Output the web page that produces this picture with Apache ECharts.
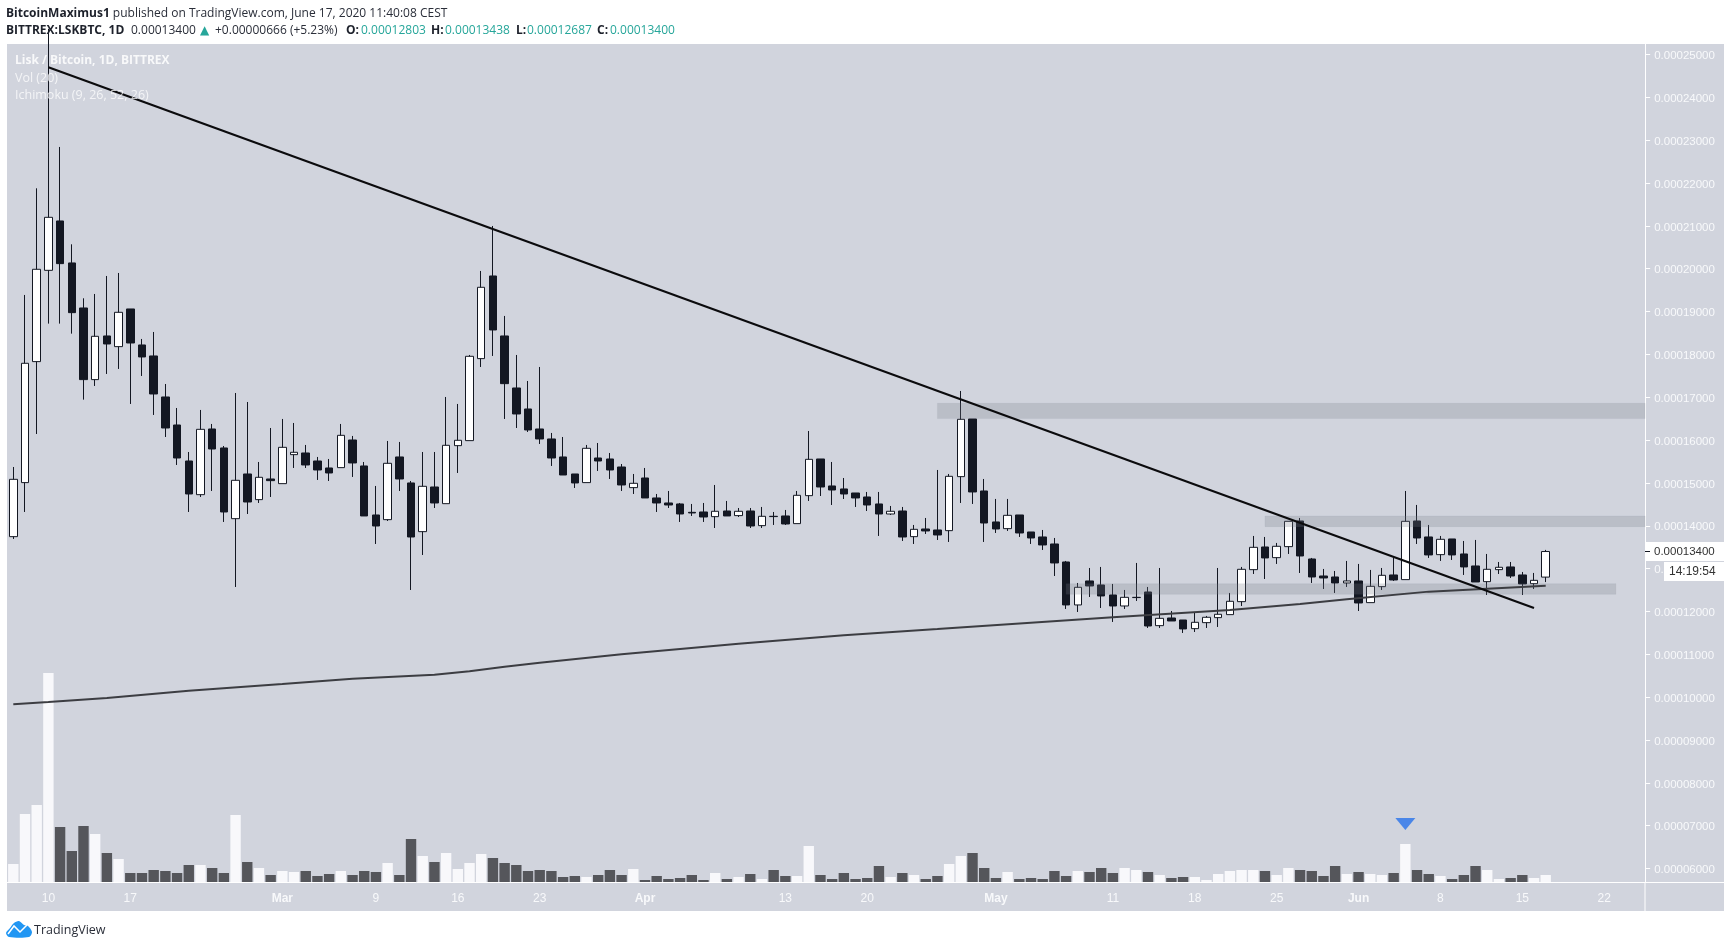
<!DOCTYPE html>
<html lang="en">
<head>
  <meta charset="UTF-8">
  <title>LSKBTC 1D</title>
  <script src="https://cdn.jsdelivr.net/npm/echarts@6/dist/echarts.min.js"></script>
  <style>
    html, body { margin: 0; padding: 0; background: #fff; overflow: hidden; }
    #chart { width: 1731px; height: 948px; }
  </style>
</head>
<body>
  <div id="chart"></div>
  <script>
    // prices are in satoshi (1e-8 BTC), one entry per day from Feb 7 2020
    var opens = [13747,15008,17832,19963,21115,20135,19084,17412,18431,18182,19061,18221,17964,17007,16353,15513,14727,16260,15817,14167,15210,14611,15093,14984,15661,15700,15513,15350,15358,16003,15397,14253,14144,15607,15000,13864,14906,14517,15871,15988,17902,19831,18431,17217,16727,16260,16027,15607,15210,15008,15583,15560,15373,14891,15116,14650,14533,14510,14315,14323,14214,14346,14238,14346,14004,14222,14230,14051,14704,15560,14930,14860,14766,14673,14510,14276,14346,13747,13926,13903,13887,15148,16494,14813,14090,13934,14253,13856,13740,13576,13156,12153,12713,12619,12386,12129,12325,12456,11670,11849,11802,11600,11740,11857,11927,12230,12977,13506,13257,13514,14113,13226,12829,12806,12666,12713,12207,12580,12853,12744,14113,13740,13327,13693,13343,13063,12697,12977,13040,12853,12650,12803];
    var closes = [15085,17793,19987,21200,20119,18975,17412,18423,18244,18983,18267,17941,17077,16283,15583,14743,16252,15793,14323,15062,14556,15132,15054,15832,15716,15420,15303,15233,16112,15467,14230,13996,15459,15093,13739,14922,14533,15879,15996,17956,19567,18571,17318,16610,16237,16027,15583,15186,15000,15809,15513,15303,14953,14992,14650,14533,14486,14276,14300,14206,14339,14230,14339,13996,14222,14215,14043,14712,15552,14906,14836,14743,14650,14486,14276,14339,13739,13918,13880,13786,15155,16486,14790,14066,13926,14245,13833,13716,13553,13133,12153,12565,12596,12363,12129,12331,12331,11662,11841,11779,11593,11748,11865,11935,12238,12985,13498,13250,13522,14105,13296,12806,12783,12666,12713,12199,12588,12845,12736,14105,13716,13320,13685,13320,13040,12689,12985,13032,12829,12643,12728,13400];
    var lows = [13693,14323,16143,18719,18719,18485,16945,17264,17544,17661,16844,17497,16587,16073,15420,14323,14673,14813,14090,12572,14276,14533,14673,14984,15350,15350,15070,15046,15358,15140,14230,13576,14113,14813,12502,13319,14416,14517,15233,15988,17707,17964,16494,16283,16190,15910,15397,15186,14883,15008,15280,15093,14813,14743,14650,14323,14416,14090,14230,14090,13949,14230,14206,13949,13949,14020,14020,14051,14580,14696,14486,14626,14440,14346,13763,14253,13646,13576,13809,13669,13623,14533,14510,13623,13833,13880,13740,13576,13436,12829,12059,11989,12339,12082,11756,12059,12246,11616,11616,11779,11499,11522,11616,11639,11927,12129,12876,12759,13110,13343,12899,12666,12526,12433,12573,12012,12207,12503,12713,12744,13576,13250,13180,13203,12853,12689,12386,12876,12783,12386,12526,12687];
    var highs = [15373,19388,21877,25600,22842,20570,19310,19411,19831,19901,19061,18361,18524,17310,16750,15723,16704,16377,15863,17100,16890,15490,16283,16494,16400,15887,15607,15560,16377,16097,15490,14930,15980,15957,15046,15723,15723,17007,16844,17987,19948,20998,18898,17987,17380,17707,16167,16073,15210,15887,15933,15700,15443,15210,15350,14743,14813,14533,14510,14533,14953,14580,14416,14416,14440,14323,14370,14813,16213,15560,15490,15116,14766,14790,14790,14463,14440,14020,14183,15303,15210,17147,16494,15093,14627,14627,14253,13856,13903,13716,13180,12666,13016,13040,12643,12503,13133,12573,13016,12012,11802,11966,11896,13016,12433,13040,13763,13740,13600,14105,14183,13250,12993,12946,13180,13110,12970,13016,13250,14813,14487,14020,13763,13693,13646,13670,13343,13156,13156,12923,12900,13438];
    var volumes = [18,68,77,209,55,31,56,48,29,23,9,9,12,11,9,17,17,14,9,67,20,14,7,11,10,11,6,8,11,7,11,10,19,7,43,26,20,29,13,19,28,24,19,17,11,12,11,5,6,5,7,12,7,13,2,6,3,4,7,2,9,3,5,8,3,12,6,6,36,7,3,9,3,4,16,5,9,7,3,6,18,26,29,14,4,10,3,4,3,11,6,11,10,14,9,14,12,10,7,4,5,5,2,8,11,12,12,11,7,14,12,11,6,16,8,10,8,7,9,38,12,8,6,3,7,16,12,3,4,7,4,7];

    // long moving average, read at a few days only (day index, price)
    var maDays = [0,3,8,15,23,29,36,39,42,45,52,62,71,79,94,104,110,114,121,131];
    var maValues = [9835,9888,9982,10152,10308,10432,10525,10605,10712,10806,11002,11249,11445,11590,11865,12036,12176,12285,12464,12604];

    // hand drawn trend line and zones (null end = runs to the price axis)
    var trendDays = [3,130];
    var trendValues = [24702,12082];
    var zoneFrom = [79,107,90];
    var zoneTo = [null,null,137];
    var zoneTop = [16859,14230,12650];
    var zoneBottom = [16502,13981,12401];

    var priceTicks = [25000,24000,23000,22000,21000,20000,19000,18000,17000,16000,15000,14000,13000,12000,11000,10000,9000,8000,7000,6000];
    var tickDays = [3,10,23,31,38,45,54,66,73,84,94,101,108,115,122,129,136];
    var tickLabels = ['10','17','Mar','9','16','23','Apr','13','20','May','11','18','25','Jun','8','15','22'];
    var monthLabels = ['Mar','Apr','May','Jun'];

    var categories = [];
    for (var d = 0; d < 140; d++) categories.push(String(d));

    var ink = '#131722';
    var white = '#f8f9fb';
    var labelFont = 'Liberation Sans';
    var headFont = '12px "Open Sans"';
    var headBold = 'bold 12px "Open Sans"';
    var teal = '#26a69a';
    var headInk = '#2a2e39';

    var chart = echarts.init(document.getElementById('chart'));

    var candles = opens.map(function (o, i) { return [o, closes[i], lows[i], highs[i]]; });
    var volumeBars = volumes.map(function (v, i) {
      return { value: v, itemStyle: { color: closes[i] >= opens[i] ? '#f8f8fb' : '#55565b' } };
    });
    var zones = zoneFrom.map(function (from, i) {
      var end = zoneTo[i] === null ? { yAxis: zoneBottom[i] } : { xAxis: zoneTo[i], yAxis: zoneBottom[i] };
      return [{ xAxis: from, yAxis: zoneTop[i] }, end];
    });

    function isTick(i) { return tickDays.indexOf(Number(i)) >= 0; }
    function headText(x, text, font, fill) {
      return { type: 'text', z: 10, x: x, y: 25, style: { text: text, font: font, fill: fill } };
    }

    chart.setOption({
      animation: false,
      backgroundColor: '#fff',
      grid: { left: 7.45, top: 44, width: 1637.7, height: 838 },
      xAxis: {
        type: 'category',
        data: categories,
        boundaryGap: true,
        axisLine: { lineStyle: { color: '#fff', width: 1 } },
        axisTick: { interval: function (i) { return isTick(i); }, alignWithLabel: true, length: 4, lineStyle: { color: '#fff' } },
        axisLabel: {
          interval: function (i) { return isTick(i); },
          margin: 11,
          color: white,
          fontFamily: labelFont,
          fontSize: 12,
          formatter: function (v) {
            var t = tickLabels[tickDays.indexOf(Number(v))];
            return monthLabels.indexOf(t) >= 0 ? '{m|' + t + '}' : t;
          },
          rich: { m: { fontWeight: 'bold', color: white, fontFamily: labelFont, fontSize: 12 } }
        },
        splitLine: { show: false }
      },
      yAxis: [
        {
          type: 'value',
          position: 'right',
          min: 5687,
          max: 25245,
          axisLine: { show: true, lineStyle: { color: '#fff' } },
          axisTick: { show: true, length: 5, customValues: priceTicks, lineStyle: { color: '#fff' } },
          axisLabel: {
            customValues: priceTicks,
            margin: 9,
            formatter: function (v) { return '{p|' + (v / 1e8).toFixed(8) + '}'; },
            rich: { p: { color: white, fontFamily: labelFont, fontSize: 11.5, padding: [3, 0, 0, 0] } }
          },
          splitLine: { show: false }
        },
        { type: 'value', min: 0, max: 838, show: false, splitLine: { show: false } }
      ],
      series: [
        {
          name: 'Vol',
          type: 'bar',
          yAxisIndex: 1,
          data: volumeBars,
          barWidth: 10.4,
          z: 1,
          markPoint: {
            silent: true,
            symbol: 'triangle',
            symbolRotate: 180,
            symbolSize: [20, 12],
            itemStyle: { color: '#4a86e8' },
            label: { show: false },
            data: [{ coord: [119, 58] }]
          }
        },
        {
          name: 'LSKBTC',
          type: 'candlestick',
          data: candles,
          barWidth: 8,
          z: 2,
          itemStyle: { color: '#fff', color0: ink, borderColor: ink, borderColor0: ink, borderWidth: 1 }
        },
        {
          name: 'Zones',
          type: 'line',
          data: [],
          z: 3,
          markArea: {
            silent: true,
            z: 3,
            itemStyle: { color: 'rgba(120,123,134,0.25)', borderColor: 'rgba(120,123,134,0.08)', borderWidth: 1 },
            data: zones
          }
        },
        {
          name: 'MA',
          type: 'line',
          data: maDays.map(function (day, i) { return [day, maValues[i]]; }),
          symbol: 'none',
          z: 4,
          lineStyle: { color: '#3c3d42', width: 2 }
        },
        {
          name: 'Trend',
          type: 'line',
          data: trendDays.map(function (day, i) { return [day, trendValues[i]]; }),
          symbol: 'none',
          z: 5,
          lineStyle: { color: '#0b0b0d', width: 2.2 }
        }
      ],
      graphic: [
        { type: 'rect', z: -1, silent: true, shape: { x: 7, y: 44, width: 1717, height: 867 }, style: { fill: '#d1d4dd' } },
        { type: 'line', z: 1, silent: true, shape: { x1: 1645, y1: 882, x2: 1645, y2: 911 }, style: { stroke: '#fff' } },
        { type: 'line', z: 1, silent: true, shape: { x1: 1645, y1: 882.5, x2: 1724, y2: 882.5 }, style: { stroke: '#fff' } },
        {
          type: 'text', z: 10, x: 6, y: 8,
          style: {
            text: '{b|BitcoinMaximus1} published on TradingView.com, June 17, 2020 11:40:08 CEST',
            font: headFont, fill: headInk,
            rich: { b: { font: headBold, fill: '#1d212b' } }
          }
        },
        headText(6, 'BITTREX:LSKBTC, 1D', headBold, '#1d212b'),
        headText(131, '0.00013400', headFont, headInk),
        headText(200, '▲', '12px "DejaVu Sans"', teal),
        headText(215, '+0.00000666 (+5.23%)', headFont, headInk),
        headText(346, 'O:', headBold, '#1d212b'),
        headText(361, '0.00012803', headFont, teal),
        headText(431, 'H:', headBold, '#1d212b'),
        headText(445, '0.00013438', headFont, teal),
        headText(516, 'L:', headBold, '#1d212b'),
        headText(527, '0.00012687', headFont, teal),
        headText(597, 'C:', headBold, '#1d212b'),
        headText(610, '0.00013400', headFont, teal),
        { type: 'text', z: 10, x: 15, y: 54.5, style: { text: 'Lisk / Bitcoin, 1D, BITTREX', font: 'bold 12px "Open Sans"', fill: 'rgba(255,255,255,0.85)' } },
        { type: 'text', z: 10, x: 15, y: 72, style: { text: 'Vol (20)', font: '12.5px "Open Sans"', fill: 'rgba(255,255,255,0.75)' } },
        { type: 'text', z: 10, x: 15, y: 89, style: { text: 'Ichimoku (9, 26, 52, 26)', font: '12.5px "Open Sans"', fill: 'rgba(255,255,255,0.75)' } },
        // last price tag and countdown sit on top of the price axis
        { type: 'rect', z: 20, silent: true, shape: { x: 1645, y: 542, width: 79, height: 19 }, style: { fill: '#fff' } },
        { type: 'line', z: 21, silent: true, shape: { x1: 1645, y1: 551.5, x2: 1650, y2: 551.5 }, style: { stroke: '#131722' } },
        { type: 'text', z: 21, x: 1654, y: 546, style: { text: '0.00013400', font: '11.5px "Liberation Sans"', fill: '#333' } },
        { type: 'rect', z: 20, silent: true, shape: { x: 1664, y: 562, width: 60, height: 19 }, style: { fill: '#fff' } },
        { type: 'text', z: 21, x: 1669, y: 566, style: { text: '14:19:54', font: '12px "Liberation Sans"', fill: '#333' } },
        // TradingView mark
        {
          type: 'polygon', z: 10, silent: true,
          shape: { points: [[6, 933], [10, 928], [14, 923], [19, 921], [24, 925], [28, 926], [32, 932], [29, 937], [9, 937]], smooth: 0.3 },
          style: { fill: '#2196f3' }
        },
        { type: 'polyline', z: 11, silent: true, shape: { points: [[8, 934], [14, 926], [20, 932], [27, 925]] }, style: { stroke: '#fff', lineWidth: 1.5, fill: 'none' } },
        { type: 'text', z: 10, x: 34, y: 924, style: { text: 'TradingView', font: '12.5px "Open Sans"', fill: '#2a2e39' } }
      ]
    });
  </script>
</body>
</html>
